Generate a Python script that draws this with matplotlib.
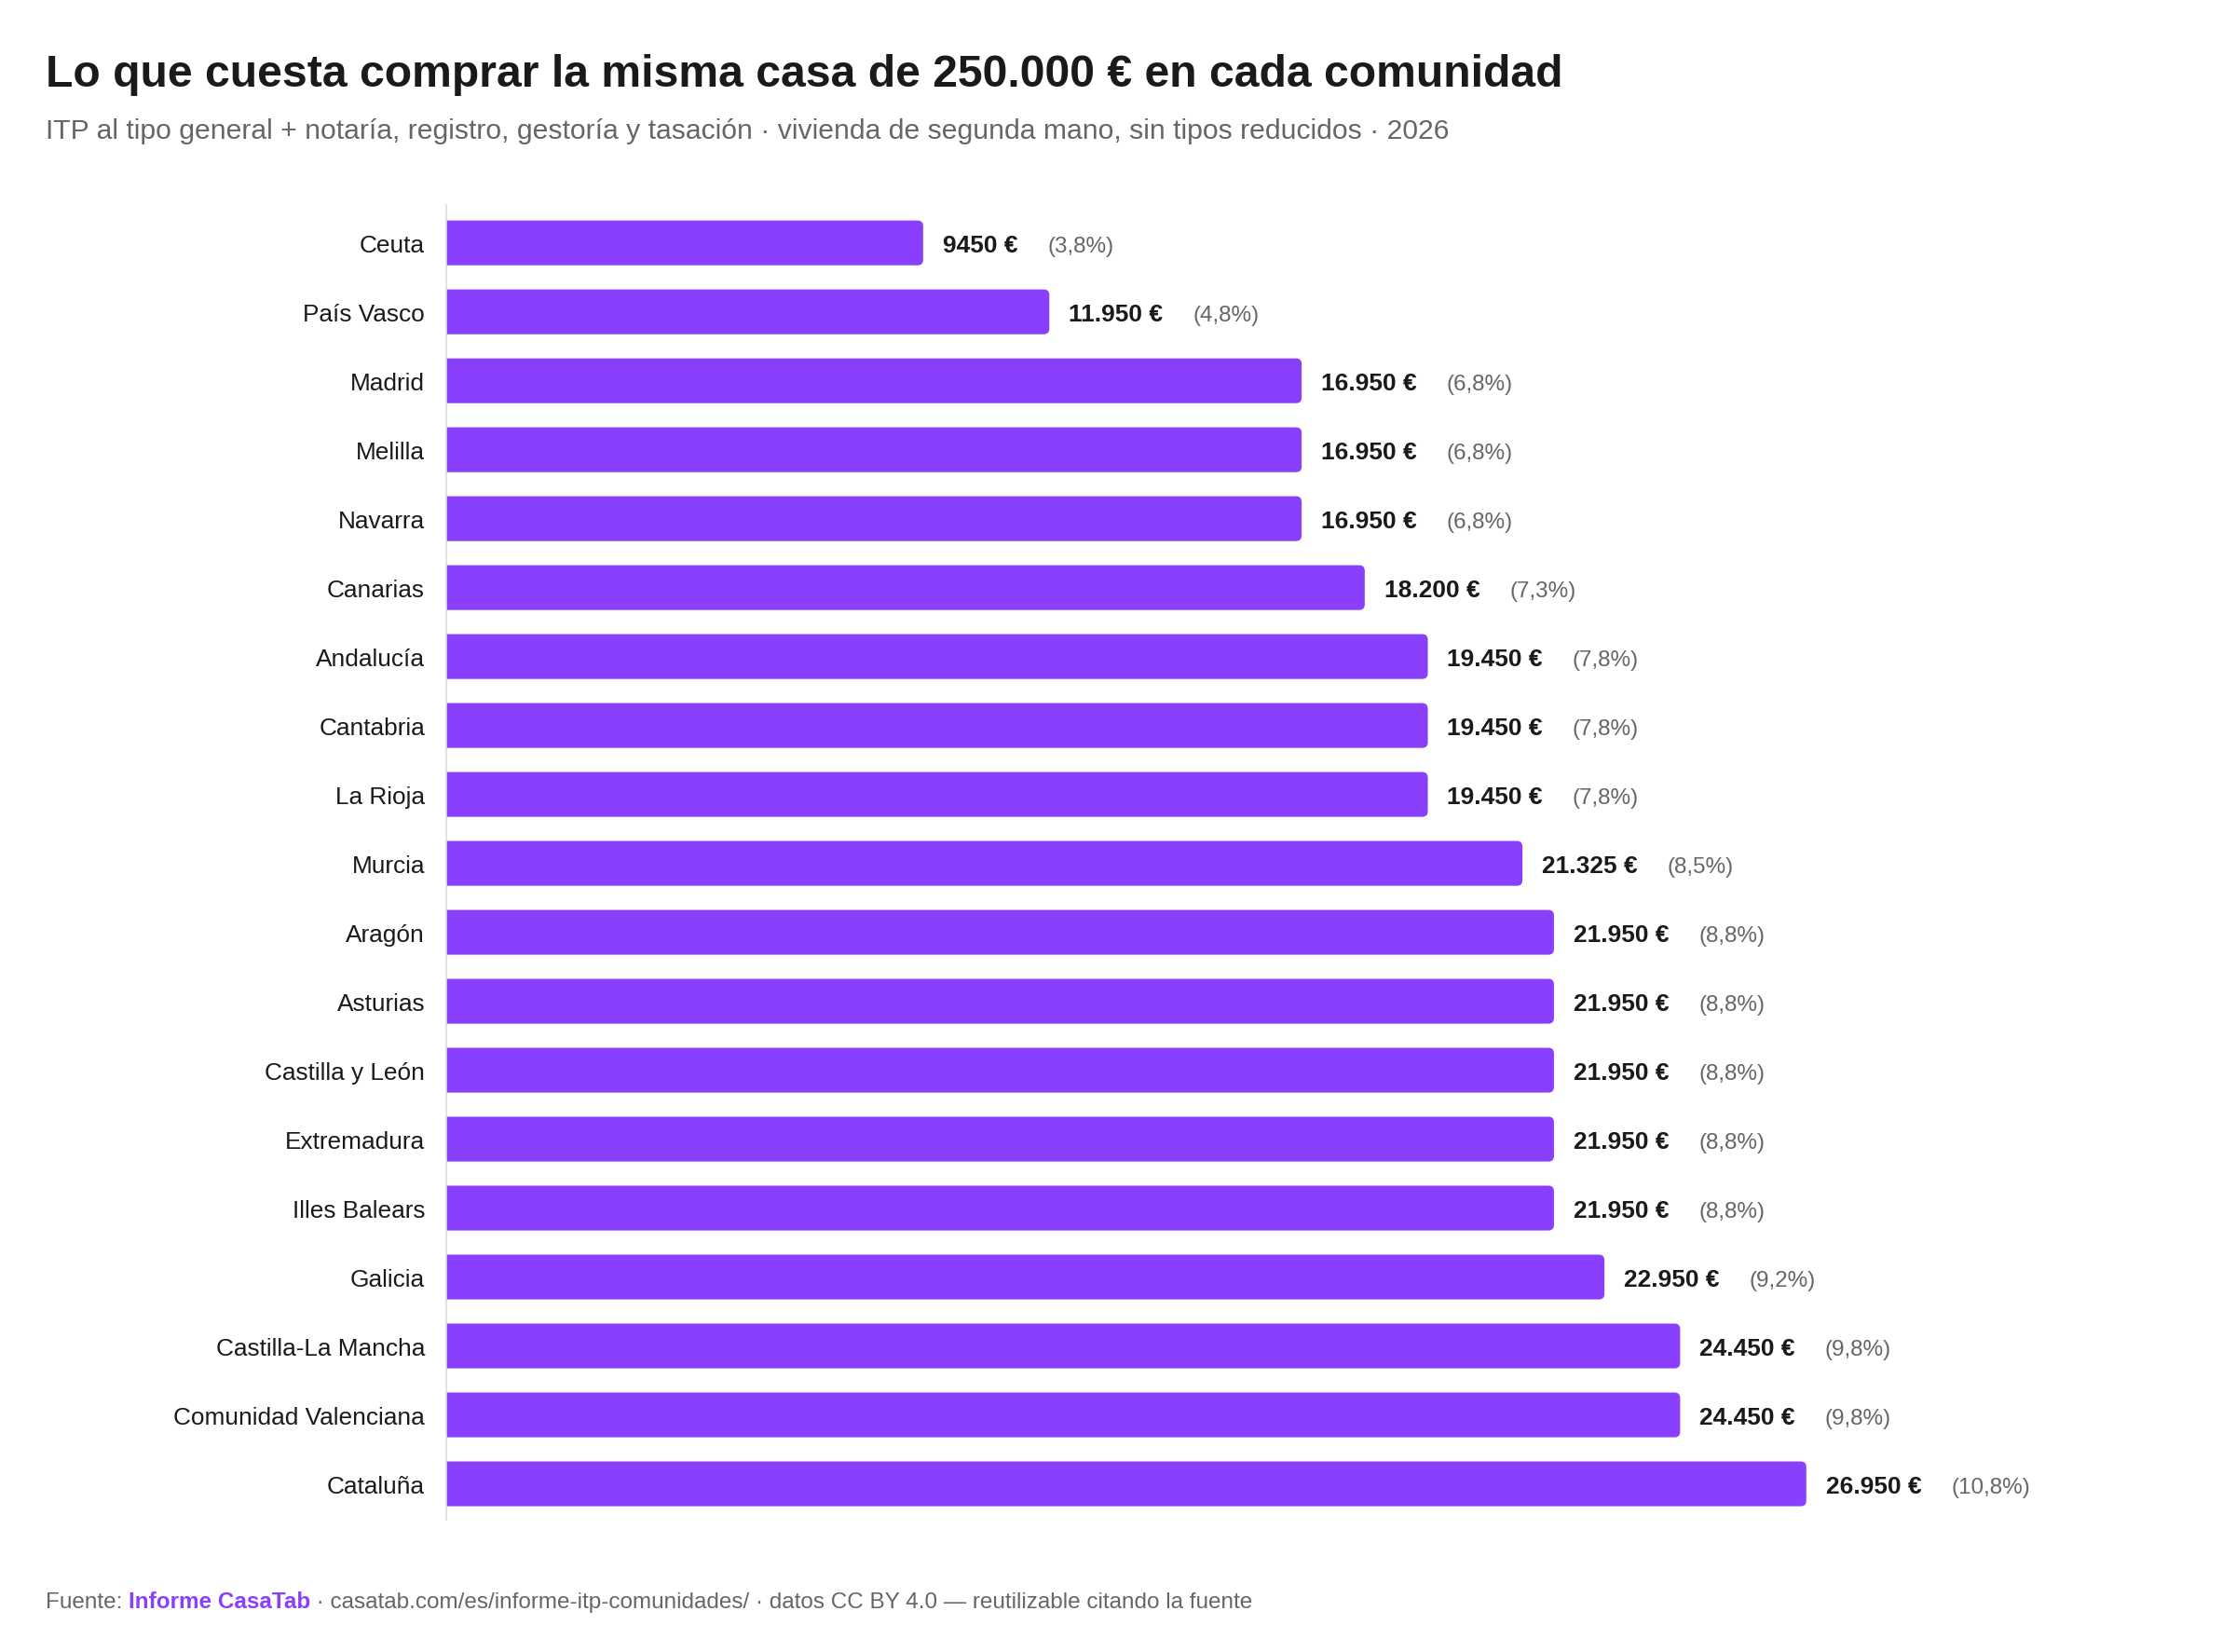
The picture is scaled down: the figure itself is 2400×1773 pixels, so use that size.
import matplotlib
matplotlib.use('Agg')
import matplotlib.pyplot as plt
from matplotlib.patches import FancyBboxPatch

plt.rcParams['font.family'] = ['Liberation Sans', 'DejaVu Sans']

communities = ['Ceuta', 'País Vasco', 'Madrid', 'Melilla', 'Navarra', 'Canarias',
               'Andalucía', 'Cantabria', 'La Rioja', 'Murcia', 'Aragón', 'Asturias',
               'Castilla y León', 'Extremadura', 'Illes Balears', 'Galicia',
               'Castilla-La Mancha', 'Comunidad Valenciana', 'Cataluña']
costs = [9450, 11950, 16950, 16950, 16950, 18200, 19450, 19450, 19450, 21325,
         21950, 21950, 21950, 21950, 21950, 22950, 24450, 24450, 26950]
pct_labels = ['3,8%', '4,8%', '6,8%', '6,8%', '6,8%', '7,3%', '7,8%', '7,8%', '7,8%',
              '8,5%', '8,8%', '8,8%', '8,8%', '8,8%', '8,8%', '9,2%', '9,8%', '9,8%', '10,8%']

PURPLE = '#8a3ffc'
DARK = '#1a1a1a'
GREY = '#666666'


def fmt_eur(v):
    # miles con punto salvo por debajo de 10.000
    if v < 10000:
        return f'{v} €'
    return f'{v:,}'.replace(',', '.') + ' €'


W, H = 2400, 1774
fig = plt.figure(figsize=(W / 100, H / 100), dpi=100)
ax = fig.add_axes([479 / W, 1 - 1632 / H, 1625 / W, 1411 / H])

ypos = list(range(len(communities)))
bars = ax.barh(ypos, costs, height=0.65, color=PURPLE)

# rounded right end: swap rectangles for rounded patches that start left of the axis
px_x = 30000 / 1625
px_y = 1 / 74
for rect in bars.patches:
    x0, y0 = rect.get_x(), rect.get_y()
    w, h = rect.get_width(), rect.get_height()
    r = 6 * px_x
    patch = FancyBboxPatch((x0 - 2 * r, y0), w + 2 * r, h,
                           boxstyle=f'round,pad=0,rounding_size={r}',
                           mutation_aspect=px_y / px_x,
                           facecolor=PURPLE, edgecolor='none', zorder=2)
    ax.add_patch(patch)
    rect.set_visible(False)

for y, v, p in zip(ypos, costs, pct_labels):
    t = ax.annotate(fmt_eur(v), xy=(v, y), xytext=(15, 0), textcoords='offset points',
                    va='center_baseline', ha='left', fontsize=19, fontweight='bold', color=DARK)
    ax.annotate(f'({p})', xy=(1, 0), xycoords=t, xytext=(23, 0),
                textcoords='offset points', va='bottom', ha='left',
                fontsize=17.5, color=GREY)

ax.set_xlim(0, 30000)
ax.set_ylim(18.52, -0.55)
ax.set_yticks(ypos)
ax.set_yticklabels(communities, fontsize=18.9, color=DARK)
ax.tick_params(axis='y', length=0, pad=16.5)
ax.set_xticks([])
for s in ['top', 'right', 'bottom']:
    ax.spines[s].set_visible(False)
ax.spines['left'].set_color('#dddddd')
ax.spines['left'].set_linewidth(1.2)

fig.text(49 / W, 1 - 93 / H, 'Lo que cuesta comprar la misma casa de 250.000 € en cada comunidad',
         fontsize=34.7, fontweight='bold', color=DARK, va='baseline')
fig.text(49 / W, 1 - 149 / H,
         'ITP al tipo general + notaría, registro, gestoría y tasación · vivienda de segunda mano, sin tipos reducidos · 2026',
         fontsize=21.7, color=GREY, va='baseline')

f1 = fig.text(49 / W, 1 - 1726 / H, 'Fuente: ', fontsize=17.5, color=GREY, va='baseline')
f2 = fig.text(0, 0, 'Informe CasaTab', fontsize=17.5, color=PURPLE, fontweight='bold', va='baseline')
f3 = fig.text(0, 0, ' · casatab.com/es/informe-itp-comunidades/ · datos CC BY 4.0 — reutilizable citando la fuente',
              fontsize=17.5, color=GREY, va='baseline')
fig.canvas.draw()
r = fig.canvas.get_renderer()
bb1 = f1.get_window_extent(r)
f2.set_position((bb1.x1 / W, 1 - 1726 / H))
fig.canvas.draw()
bb2 = f2.get_window_extent(r)
f3.set_position((bb2.x1 / W, 1 - 1726 / H))

fig.savefig('out.png', dpi=100, facecolor='white')
